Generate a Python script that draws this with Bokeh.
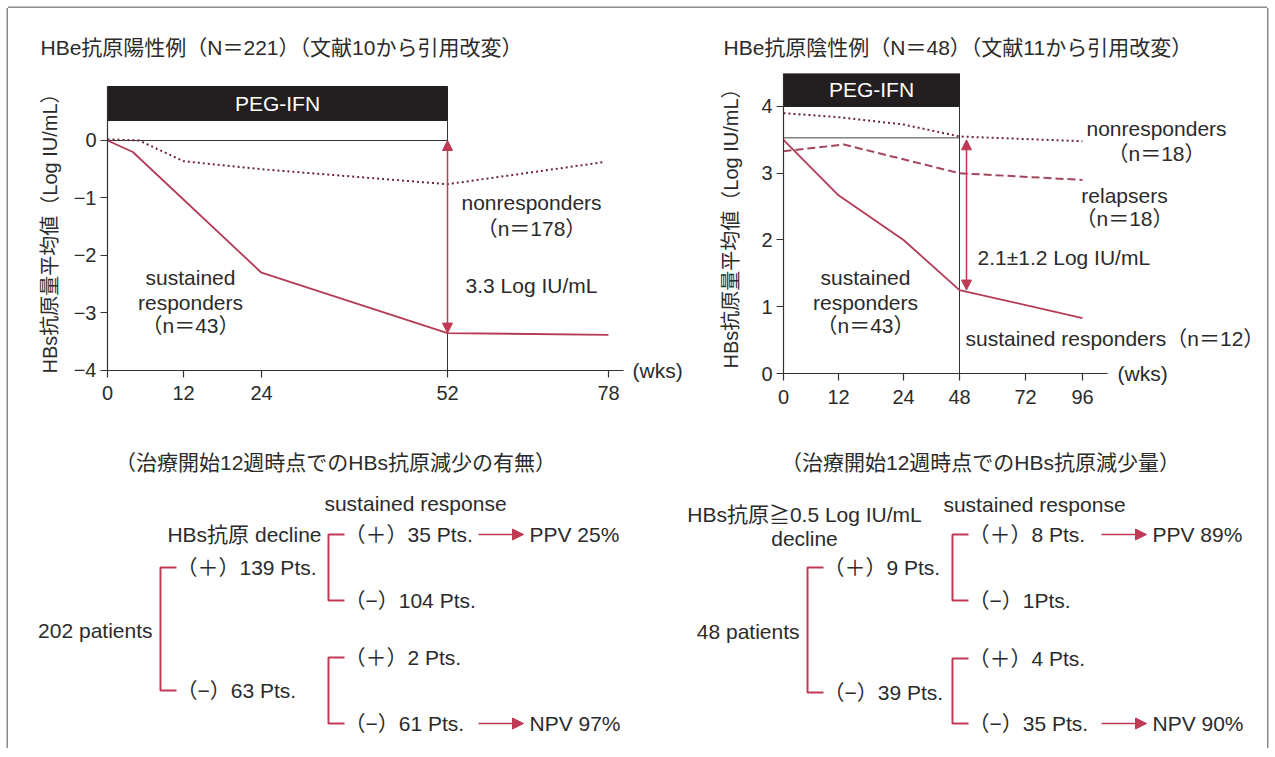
import numpy as np
from bokeh.plotting import figure
from bokeh.models import Range1d, FixedTicker, Title, Arrow, NormalHead
from bokeh.layouts import column, row
from bokeh.embed import file_html
from bokeh.resources import INLINE
from bokeh.core.properties import value

# ---------------- data ----------------
# left chart: HBeAg positive (weeks vs mean HBsAg change, log IU/mL)
L_TICK_WEEKS = [0, 12, 24, 52, 78]
L_TICK_POS = [0, 76, 154, 340, 501]          # axis spacing as drawn in the source
L_SR_WEEKS = [0, 4, 24, 52, 78]
L_SR_VALS = [0.0, -0.2, -2.3, -3.35, -3.38]
L_NR_WEEKS = [0, 5, 12, 24, 52, 77]
L_NR_VALS = [0.02, 0.0, -0.36, -0.5, -0.76, -0.38]
L_Y_TICKS = [-4, -3, -2, -1, 0]
L_TREAT_END = 52

# right chart: HBeAg negative
R_TICK_WEEKS = [0, 12, 24, 48, 72, 96]
R_TICK_POS = [0, 55, 120, 176, 242, 299]
R_SR_WEEKS = [0, 12, 24, 48, 96]
R_SR_VALS = [3.5, 2.67, 2.0, 1.25, 0.83]
R_RL_WEEKS = [0, 13, 48, 96]
R_RL_VALS = [3.33, 3.43, 3.0, 2.9]
R_NR_WEEKS = [0, 12, 24, 48, 96]
R_NR_VALS = [3.9, 3.84, 3.73, 3.55, 3.48]
R_BASELINE = 3.53
R_Y_TICKS = [0, 1, 2, 3, 4]
R_TREAT_END = 48

# trees
L_TOTAL = 202
L_DECLINE = [139, 63]
L_SUSTAINED = [[35, 104], [2, 61]]
L_PPV, L_NPV = 25, 97
R_TOTAL = 48
R_DECLINE = [9, 39]
R_SUSTAINED = [[8, 1], [4, 35]]
R_PPV, R_NPV = 89, 90

# ---------------- style ----------------
FONT = "Liberation Sans, Noto Sans CJK JP"
TXT = "#2b2b2b"
RED = "#c03a55"
RED_LINE = "#b53a55"
DOT = "#6e2636"
DASH = "#a4465a"
FS = "21px"


def lpos(w):
    return np.interp(w, L_TICK_WEEKS, L_TICK_POS)


def rpos(w):
    return np.interp(w, R_TICK_WEEKS, R_TICK_POS)


def txt(p, xs, ys, labels, align="left", size=FS, color=TXT):
    p.text(x=xs, y=ys, text=labels, text_align=align, text_baseline="middle",
           text_font=value(FONT), text_font_size=size, text_color=color)


def style_axes(p, xticks, xlabels, xbound, yticks, ybounds, ylabel, ystand):
    for ax in (p.xaxis[0], p.yaxis[0]):
        ax.axis_line_color = "#333333"
        ax.axis_line_width = 1.2
        ax.major_tick_line_color = "#333333"
        ax.major_tick_line_width = 1.2
        ax.major_tick_out = 7
        ax.major_tick_in = 0
        ax.minor_tick_line_color = None
        ax.major_label_text_font = FONT
        ax.major_label_text_font_size = "20px"
        ax.major_label_text_color = TXT
    p.xaxis.ticker = FixedTicker(ticks=list(xticks))
    p.xaxis.major_label_overrides = {float(t): str(l) for t, l in zip(xticks, xlabels)}
    p.xaxis.major_label_standoff = 9
    p.xaxis.bounds = (0, xbound)
    p.xaxis.fixed_location = ybounds[0]
    p.yaxis.bounds = ybounds
    p.yaxis.fixed_location = 0
    p.yaxis.ticker = FixedTicker(ticks=yticks)
    p.yaxis.major_label_overrides = {t: str(t).replace("-", "\u2212") for t in yticks}
    p.yaxis.major_label_standoff = 4
    p.yaxis.axis_label = ylabel
    p.yaxis.axis_label_text_font = FONT
    p.yaxis.axis_label_text_font_size = "20px"
    p.yaxis.axis_label_text_font_style = "normal"
    p.yaxis.axis_label_text_color = TXT
    p.yaxis.axis_label_standoff = ystand
    p.grid.visible = False
    p.outline_line_color = None


def title(p, text, offset):
    p.add_layout(Title(text=text, align="left", offset=offset, standoff=30,
                       text_font=FONT, text_font_size=FS, text_font_style="normal",
                       text_color=TXT), "above")


YLABEL = "HBs抗原量平均値（Log IU/mL）"
TOP_KW = dict(height=412, output_backend="svg", toolbar_location=None,
              min_border_left=0, min_border_right=0, min_border_top=65, min_border_bottom=0)

# ---------------- left chart ----------------
L = figure(width=682, x_range=Range1d(-99, 583), y_range=Range1d(-4.870, 1.165), **TOP_KW)
title(L, "HBe抗原陽性例（N＝221）（文献10から引用改変）", 32)
style_axes(L, L_TICK_POS, L_TICK_WEEKS, 516, L_Y_TICKS, (-4, 0.939), YLABEL, 10)

L.quad(left=[lpos(0)], right=[lpos(L_TREAT_END)], bottom=[0.348], top=[0.939],
       fill_color="#231f20", line_color="#231f20")
txt(L, [lpos(L_TREAT_END) / 2], [0.64], ["PEG-IFN"], align="center", color="white")
L.line(x=[lpos(0), lpos(L_TREAT_END)], y=[0, 0], line_color="#333333", line_width=1)
L.line(x=[lpos(L_TREAT_END)] * 2, y=[-4, 0.348], line_color="#333333", line_width=1)
L.line(x=lpos(L_NR_WEEKS), y=L_NR_VALS, line_color=DOT, line_width=2, line_dash="2 3")
L.line(x=lpos(L_SR_WEEKS), y=L_SR_VALS, line_color=RED_LINE, line_width=1.8)
L.add_layout(Arrow(x_start=lpos(L_TREAT_END), y_start=L_SR_VALS[3],
                   x_end=lpos(L_TREAT_END), y_end=0.0,
                   start=NormalHead(size=10, fill_color=RED, line_color=RED),
                   end=NormalHead(size=10, fill_color=RED, line_color=RED),
                   line_color=RED, line_width=1.5))
txt(L, [424, 424, 424], [-1.08, -1.53, -2.52],
    ["nonresponders", "（n＝178）", "3.3 Log IU/mL"], align="center")
txt(L, [83, 83, 83], [-2.38, -2.82, -3.22],
    ["sustained", "responders", "（n＝43）"], align="center")
txt(L, [525], [-4], ["(wks)"])

# ---------------- right chart ----------------
R = figure(width=577, x_range=Range1d(-93, 484), y_range=Range1d(-0.704, 4.494), **TOP_KW)
title(R, "HBe抗原陰性例（N＝48）（文献11から引用改変）", 33)
style_axes(R, R_TICK_POS, R_TICK_WEEKS, 324, R_Y_TICKS, (0, 4.494), YLABEL, 16)

R.quad(left=[rpos(0)], right=[rpos(R_TREAT_END)], bottom=[4.0], top=[4.494],
       fill_color="#231f20", line_color="#231f20")
txt(R, [rpos(R_TREAT_END) / 2], [4.25], ["PEG-IFN"], align="center", color="white")
R.line(x=[rpos(0), rpos(R_TREAT_END)], y=[R_BASELINE] * 2, line_color="#444444", line_width=1)
R.line(x=[rpos(R_TREAT_END)] * 2, y=[0, 4.0], line_color="#333333", line_width=1)
R.line(x=rpos(R_NR_WEEKS), y=R_NR_VALS, line_color=DOT, line_width=2, line_dash="2 3")
R.line(x=rpos(R_RL_WEEKS), y=R_RL_VALS, line_color=DASH, line_width=2, line_dash="8 4")
R.line(x=rpos(R_SR_WEEKS), y=R_SR_VALS, line_color=RED_LINE, line_width=1.8)
R.add_layout(Arrow(x_start=rpos(R_TREAT_END) + 7, y_start=R_SR_VALS[3],
                   x_end=rpos(R_TREAT_END) + 7, y_end=R_SR_VALS[0],
                   start=NormalHead(size=10, fill_color=RED, line_color=RED),
                   end=NormalHead(size=10, fill_color=RED, line_color=RED),
                   line_color=RED, line_width=1.5))
txt(R, [373, 373], [3.67, 3.30], ["nonresponders", "（n＝18）"], align="center")
txt(R, [341, 341], [2.67, 2.32], ["relapsers", "（n＝18）"], align="center")
txt(R, [194], [1.74], ["2.1±1.2 Log IU/mL"])
txt(R, [82, 82, 82], [1.44, 1.06, 0.72], ["sustained", "responders", "（n＝43）"], align="center")
txt(R, [182], [0.52], ["sustained responders（n＝12）"])
txt(R, [334], [0], ["(wks)"])

# ---------------- trees ----------------
B = figure(width=1259, height=328, x_range=Range1d(8, 1267), y_range=Range1d(748, 420),
           output_backend="svg", toolbar_location=None, x_axis_type=None, y_axis_type=None,
           min_border=0)
B.grid.visible = False
B.outline_line_color = None
TICK = 16


def bracket(p, x, y0, y1):
    p.line(x=[x + TICK, x, x, x + TICK], y=[y0, y0, y1, y1], line_color=RED, line_width=2)


def sign_label(i, n):
    s = "（＋）" if i == 0 else "（−）"
    return f"{s}{n}{'' if n == 1 else ' '}Pts."


def tree(p, total, decline, sust, ppv, npv, g):
    bx, by0, by1 = g["main"]
    bracket(p, bx, by0, by1)
    txt(p, [bx - 8], [(by0 + by1) / 2 + 1], [f"{total} patients"], align="right")
    txt(p, [bx + TICK, bx + TICK], [by0, by1], [sign_label(0, decline[0]), sign_label(1, decline[1])])
    sx = g["sub_x"]
    for k, (y0, y1) in enumerate(g["sub_y"]):
        bracket(p, sx, y0, y1)
        txt(p, [sx + TICK, sx + TICK], [y0, y1], [sign_label(0, sust[k][0]), sign_label(1, sust[k][1])])
    ax0, ax1 = g["arrow_x"]
    ya, yb = g["sub_y"][0][0], g["sub_y"][1][1]
    for yy, lab in ((ya, f"PPV {ppv}%"), (yb, f"NPV {npv}%")):
        p.add_layout(Arrow(x_start=ax0, y_start=yy, x_end=ax1, y_end=yy,
                           end=NormalHead(size=11, fill_color=RED, line_color=RED),
                           line_color=RED, line_width=1.5))
        txt(p, [ax1 + 6], [yy], [lab])


tree(B, L_TOTAL, L_DECLINE, L_SUSTAINED, L_PPV, L_NPV,
     {"main": (160, 567, 690), "sub_x": 328, "sub_y": [(534, 600), (657, 723)], "arrow_x": (478, 523)})
tree(B, R_TOTAL, R_DECLINE, R_SUSTAINED, R_PPV, R_NPV,
     {"main": (807, 567, 692), "sub_x": 952, "sub_y": [(534, 600), (658, 723)], "arrow_x": (1101, 1146)})

txt(B, [335], [462], ["（治療開始12週時点でのHBs抗原減少の有無）"], align="center")
txt(B, [980], [462], ["（治療開始12週時点でのHBs抗原減少量）"], align="center")
txt(B, [415], [503], ["sustained response"], align="center")
txt(B, [1034], [504], ["sustained response"], align="center")
txt(B, [321], [534], ["HBs抗原 decline"], align="right")
txt(B, [804, 804], [514, 538], ["HBs抗原≧0.5 Log IU/mL", "decline"], align="center")

layout = column(row(L, R), B,
                styles={"margin-left": "8px", "margin-top": "8px",
                        "box-shadow": "-1.5px 0 0 #8a8a8a, 1.5px 0 0 #8a8a8a, 0 -1.5px 0 #8a8a8a"})

open("out.html", "w").write(file_html(layout, INLINE))
